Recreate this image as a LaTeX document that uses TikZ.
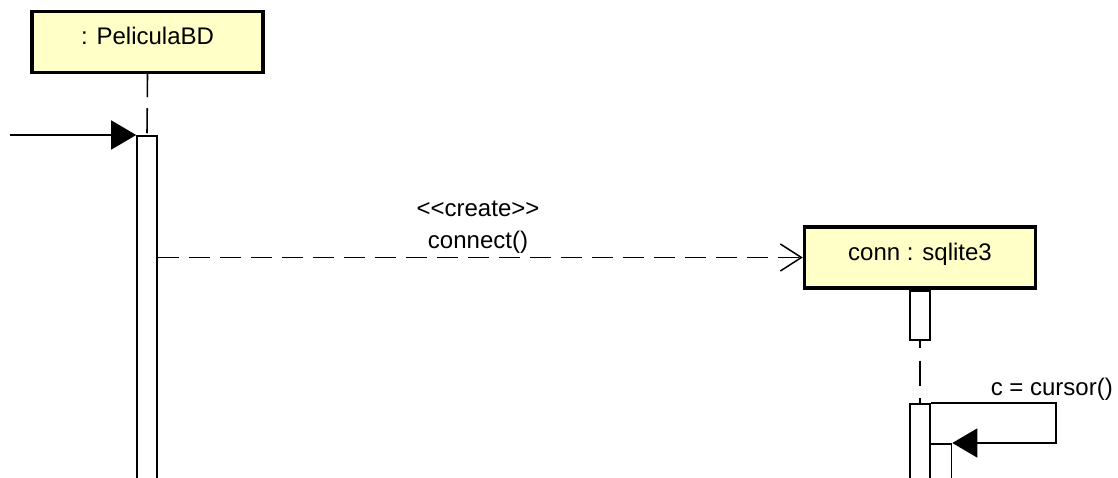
\documentclass[tikz,border=0pt]{standalone}
\usepackage{fontspec}
\setmainfont{Liberation Sans}
\usetikzlibrary{arrows.meta}

\begin{document}
\begin{tikzpicture}[x=1pt,y=1pt,yscale=-1,xscale=1,
  objbox/.style={draw, line width=3.5pt, fill={rgb, 255:red, 255; green, 255; blue, 200}, minimum width=231, minimum height=61, inner sep=0pt, text height=17pt, text depth=11pt, font=\fontsize{24}{28}\selectfont},
  actbar/.style={draw, line width=1.6pt, fill=white, minimum width=20, inner sep=0pt, anchor=north},
  lifeline/.style={line width=1.6pt},
  sync/.style={line width=1.5pt, -{Triangle[length=25pt,width=29pt]}},
  create/.style={line width=1.5pt, dash pattern=on 21pt off 10pt, -{Straight Barb[length=21pt,width=27pt,line width=1.5pt]}},
  lbl/.style={inner sep=0pt, font=\fontsize{24}{28}\selectfont}]
\useasboundingbox (0,0) rectangle (1118,478);
\clip (0,0) rectangle (1118,478);

% heads
\node[objbox] (pbd) at (147.5,42) {: PeliculaBD};
\node[objbox] (conn) at (920,257.5) {conn : sqlite3};

% lifelines
\draw[lifeline, dash pattern=on 25pt off 11pt, dash phase=2pt] (pbd.south) -- (147,135);
\coordinate (c1end) at (920,339);
\coordinate (c2top) at (920,403);
\draw[lifeline, dash pattern=on 25pt off 12.5pt, dash phase=16pt] (c1end) -- (c2top);

% activations
\node[actbar, minimum height=360] (actP) at (147,135) {};
\node[actbar, minimum height=49] (actC1) at (920,290) {};
\node[actbar, minimum height=100] (actC2) at (c2top) {};
\node[actbar, minimum width=21, minimum height=60] (actC3) at (941,443) {};

% messages
\coordinate (found) at (10,135);
\draw[sync] (found) -- (actP.north west);

\draw[create] (actP.east |- conn.west) -- (conn.west);
\node[lbl, anchor=base] (stereo) at (478,217) {<\kern0pt<create>\kern0pt>};
\node[lbl, anchor=base] (msgname) at (478,248) {connect()};

\coordinate (selfR) at (1056,403);
\draw[sync] (actC2.north east) -- (selfR) |- (actC3.north east);
\node[lbl, anchor=base east] (selfname) at (1113,395) {c = cursor()};

\end{tikzpicture}
\end{document}
